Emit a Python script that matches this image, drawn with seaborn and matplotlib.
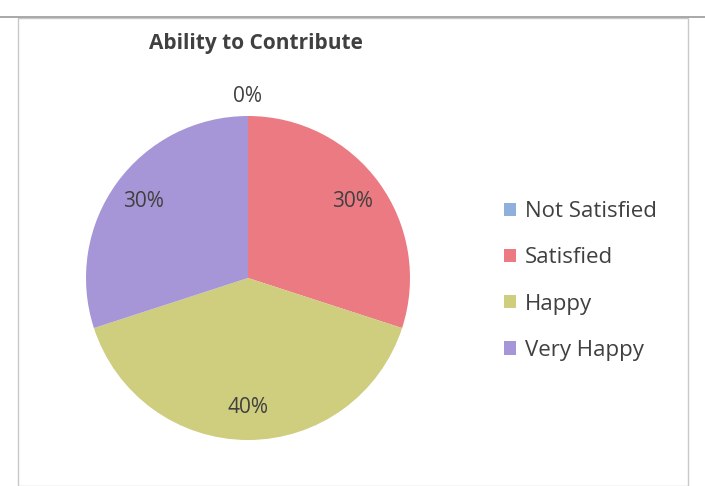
import matplotlib.pyplot as plt
import seaborn as sns
from matplotlib.patches import Rectangle
import numpy as np

categories = ['Not Satisfied', 'Satisfied', 'Happy', 'Very Happy']
shares = [0, 30, 40, 30]
colors = ['#8fb0dc', '#ec7a82', '#cfcd7e', '#a796d7']

sns.set_theme(style="white")
plt.rcParams['font.family'] = ['Open Sans', 'DejaVu Sans']

fig = plt.figure(figsize=(7.05, 4.86), dpi=100)
fig.patch.set_facecolor('white')

# chart frame (scanned excel box)
fig.patches.append(Rectangle((18 / 705, 0), 670 / 705, 1 - 18 / 486, transform=fig.transFigure,
                             fill=False, edgecolor='#c8c8c8', linewidth=1.0))
fig.add_artist(plt.Line2D([0, 1], [1 - 17 / 486, 1 - 17 / 486], transform=fig.transFigure,
                          color='#9a9a9a', linewidth=1.2))

cx, cy, r = 248, 486 - 278, 162
ax = fig.add_axes([(cx - r) / 705, (cy - r) / 486, 2 * r / 705, 2 * r / 486])

wedges, texts, autotexts = ax.pie(
    shares, colors=colors, startangle=90, counterclock=False,
    autopct='%1.0f%%', pctdistance=0.8, radius=1.0,
    textprops={'fontsize': 15, 'color': '#404040'},
)
for w in wedges:
    w.set_linewidth(0)

# zero slice label sits outside the pie
for w, t, v in zip(wedges, autotexts, shares):
    if v == 0:
        ang = np.deg2rad((w.theta1 + w.theta2) / 2)
        t.set_position((1.12 * np.cos(ang), 1.12 * np.sin(ang)))

ax.set_xlim(-1, 1)
ax.set_ylim(-1, 1)
ax.set_aspect('equal')
ax.axis('off')

fig.text(256 / 705, 1 - 43 / 486, 'Ability to Contribute', ha='center', va='center',
         fontsize=15, fontweight='bold', color='#404040')

fig.legend(wedges, categories, loc='center left', bbox_to_anchor=(484 / 705, 1 - 281 / 486),
           frameon=False, fontsize=16, handlelength=0.55, handleheight=0.55,
           handletextpad=0.4, labelspacing=1.13, labelcolor='#404040')

plt.savefig('out.png', dpi=100)
